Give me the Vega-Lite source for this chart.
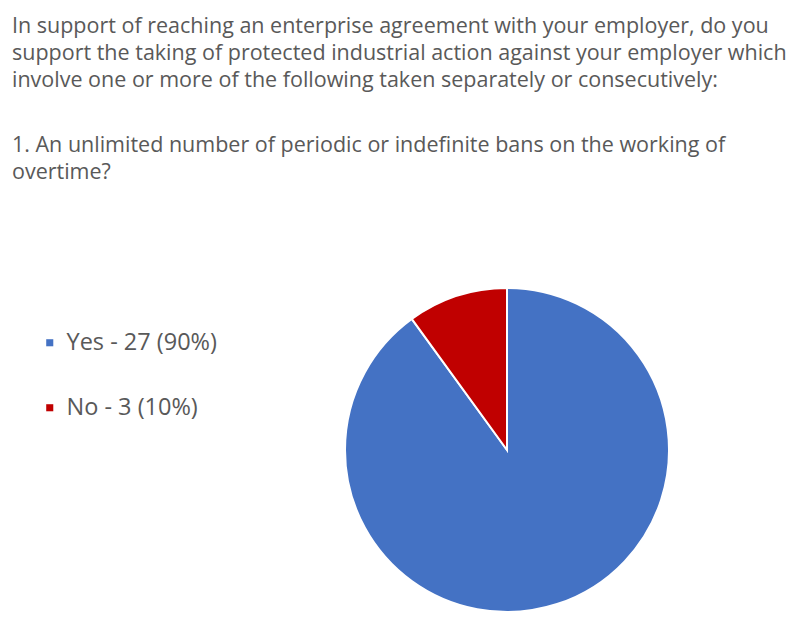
{
  "$schema": "https://vega.github.io/schema/vega-lite/v6.json",
  "width": 324,
  "height": 324,
  "autosize": {"type": "none"},
  "padding": {"left": 345, "top": 288, "right": 141, "bottom": 8},
  "background": "white",
  "title": {
    "text": [
      "In support of reaching an enterprise agreement with your employer, do you",
      "support the taking of protected industrial action against your employer which",
      "involve one or more of the following taken separately or consecutively:"
    ],
    "subtitle": [
      "1. An unlimited number of periodic or indefinite bans on the working of",
      "overtime?"
    ],
    "anchor": "start",
    "frame": "group",
    "orient": "top",
    "dx": -333,
    "offset": 101,
    "font": "Open Sans",
    "fontSize": 21.5,
    "fontWeight": "normal",
    "color": "#595959",
    "lineHeight": 27,
    "subtitleFont": "Open Sans",
    "subtitleFontSize": 21.5,
    "subtitleColor": "#595959",
    "subtitleLineHeight": 27,
    "subtitlePadding": 43
  },
  "data": {
    "values": [
      {"label": "Yes - 27 (90%)", "count": 27},
      {"label": "No - 3 (10%)", "count": 3}
    ]
  },
  "mark": {"type": "arc", "stroke": "white", "strokeWidth": 2, "outerRadius": 162},
  "encoding": {
    "theta": {"field": "count", "type": "quantitative", "stack": true},
    "order": {"field": "count", "sort": "descending"},
    "color": {
      "field": "label",
      "type": "nominal",
      "sort": ["Yes - 27 (90%)", "No - 3 (10%)"],
      "scale": {"domain": ["Yes - 27 (90%)", "No - 3 (10%)"], "range": ["#4472C4", "#C00000"]},
      "legend": {
        "title": null,
        "orient": "none",
        "legendX": -307,
        "legendY": 43,
        "symbolType": "square",
        "symbolSize": 50,
        "symbolStrokeWidth": 0,
        "labelFont": "Open Sans",
        "labelFontSize": 23.5,
        "labelColor": "#595959",
        "labelOffset": 5,
        "rowPadding": 40
      }
    }
  },
  "config": {"view": {"stroke": null}}
}
